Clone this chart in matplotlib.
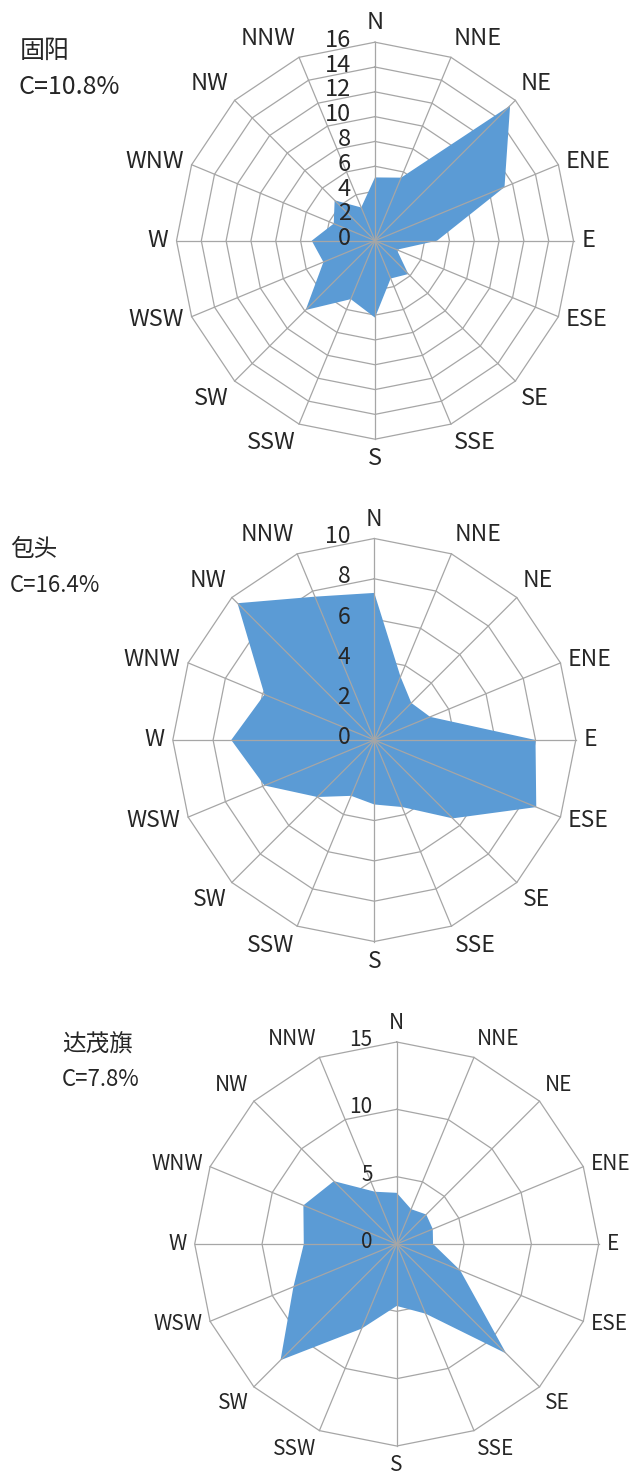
import numpy as np
import matplotlib
matplotlib.use('Agg')
from matplotlib import pyplot as plt
from matplotlib.transforms import offset_copy

plt.rcParams['font.family'] = ['Noto Sans CJK SC', 'DejaVu Sans']

W, H = 629, 1477

# 16 个风向
dirs = ['N', 'NNE', 'NE', 'ENE', 'E', 'ESE', 'SE', 'SSE',
        'S', 'SSW', 'SW', 'WSW', 'W', 'WNW', 'NW', 'NNW']

# 风向频率 (%)
guyang = [5.1, 5.5, 15.4, 11.3, 5.0, 1.9, 3.8, 3.3,
          6.2, 5.1, 7.9, 4.5, 5.1, 3.6, 4.6, 2.9]
baotou = [7.3, 3.4, 2.6, 3.0, 8.0, 8.7, 5.5, 3.6,
          3.2, 3.0, 4.0, 5.9, 7.1, 5.9, 9.6, 7.7]
damao = [3.8, 2.8, 3.1, 2.9, 2.7, 5.1, 11.5, 5.6,
         4.6, 6.8, 12.2, 8.3, 6.9, 7.5, 6.6, 4.2]

# 径向刻度
ticks_guyang = [0, 2, 4, 6, 8, 10, 12, 14, 16]
ticks_baotou = [0, 2, 4, 6, 8, 10]
ticks_damao = [0, 5, 10, 15]

names = ['固阳', '包头', '达茂旗']
calm = ['C=10.8%', 'C=16.4%', 'C=7.8%']

fill_c = '#5B9BD5'
grid_c = '#A6A6A6'
text_c = '#262626'

fig = plt.figure(figsize=(W / 100, H / 100), dpi=100)


def radar(cx, cy, R, values, ticks, fs, pad):
    rect = [(cx - R) / W, (H - cy - R) / H, 2 * R / W, 2 * R / H]
    ax = fig.add_axes(rect, projection='polar')
    ax.set_theta_zero_location('N')
    ax.set_theta_direction(-1)
    rmax = ticks[-1]
    ax.set_ylim(0, rmax)
    ax.grid(False)
    ax.set_xticks([])
    ax.set_yticks([])
    ax.spines['polar'].set_visible(False)
    ax.patch.set_alpha(0)

    theta = np.linspace(0, 2 * np.pi, len(dirs), endpoint=False)
    tc = np.append(theta, theta[0])
    # 网格多边形
    for r in ticks[1:]:
        ax.plot(tc, [r] * len(tc), color=grid_c, lw=0.9, clip_on=False, zorder=1)
    # 数据
    vals = np.append(values, values[0])
    ax.fill(tc, vals, color=fill_c, lw=0, zorder=2)
    # 辐射线
    for t in theta:
        ax.plot([t, t], [0, rmax], color=grid_c, lw=0.9, clip_on=False, zorder=3)

    # 方向标签
    for t, d in zip(theta, dirs):
        s, c = np.sin(t), np.cos(t)
        ha = 'left' if s > 0.3 else ('right' if s < -0.3 else 'center')
        va = 'bottom' if c > 0.5 else ('top' if c < -0.5 else 'center')
        tr = offset_copy(ax.transData, fig=fig, x=pad * s, y=pad * c, units='dots')
        ax.text(t, rmax, d, ha=ha, va=va, fontsize=fs, color=text_c, transform=tr)

    # 径向刻度标签
    tr = offset_copy(ax.transData, fig=fig, x=-24, y=2, units='dots')
    for r in ticks:
        ax.text(0, r, str(r), ha='right', va='center', fontsize=fs, color=text_c,
                transform=tr)
    return ax


radar(375, 240.7, 198.5, guyang, ticks_guyang, 17, 8)
radar(374.3, 740, 201.5, baotou, ticks_baotou, 16.5, 8)
radar(396.7, 1244, 202, damao, ticks_damao, 15, 8)

# 站名与静风频率
fig.text(20 / W, 1 - 51 / H, names[0], fontsize=18, color=text_c, va='center')
fig.text(18 / W, 1 - 87 / H, calm[0], fontsize=18, color=text_c, va='center')
fig.text(10 / W, 1 - 550 / H, names[1], fontsize=17, color=text_c, va='center')
fig.text(10 / W, 1 - 585 / H, calm[1], fontsize=16, color=text_c, va='center')
fig.text(62 / W, 1 - 1045 / H, names[2], fontsize=17, color=text_c, va='center')
fig.text(62 / W, 1 - 1079 / H, calm[2], fontsize=16, color=text_c, va='center')

fig.savefig('out.png', dpi=100, facecolor='white')
